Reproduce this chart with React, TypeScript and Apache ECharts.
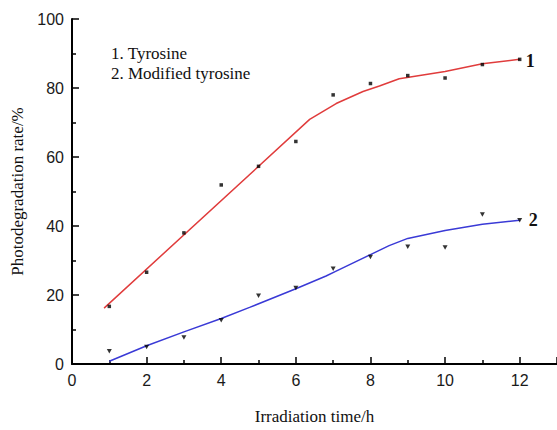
import React, { useEffect, useRef } from "react";
import * as echarts from "echarts";

// Measured points (irradiation time / h, photodegradation rate / %)
const tyrosinePoints: [number, number][] = [
  [1, 16.7], [2, 26.6], [3, 38.0], [4, 51.9], [5, 57.3], [6, 64.5],
  [7, 78.0], [8, 81.3], [9, 83.6], [10, 82.9], [11, 86.8], [12, 88.3],
];
const modifiedPoints: [number, number][] = [
  [1, 3.7], [2, 4.9], [3, 7.7], [4, 12.7], [5, 19.8], [6, 22.0],
  [7, 27.6], [8, 31.0], [9, 34.0], [10, 33.8], [11, 43.3], [12, 41.7],
];
// Fitted curves
const tyrosineFit: [number, number][] = [
  [0.86, 16.2], [6.37, 70.9], [7.08, 75.5], [7.8, 79.0], [8.24, 80.6],
  [8.77, 82.7], [10, 84.8], [11, 87.0], [12, 88.3],
];
const modifiedFit: [number, number][] = [
  [1, 0.8], [2, 5.3], [3, 9.3], [4, 13.2], [4.76, 16.4], [6, 21.8],
  [6.81, 25.5], [7.08, 26.9], [8, 31.7], [8.5, 34.3], [9, 36.4],
  [10, 38.7], [11, 40.5], [12, 41.7],
];
const seriesNames = ["1. Tyrosine", "2. Modified tyrosine"];
const endLabels = ["1", "2"];

const SERIF = "'Liberation Serif', 'Times New Roman', serif";
const SANS = "'Liberation Sans', Arial, sans-serif";

export default function App() {
  const ref = useRef<HTMLDivElement>(null);
  useEffect(() => {
    if (!ref.current) return;
    const chart = echarts.init(ref.current, undefined, { renderer: "svg" });
    const axisCommon = {
      axisLine: { show: true, lineStyle: { color: "#000", width: 2 } },
      axisTick: { show: true, inside: true, length: 7, lineStyle: { color: "#000", width: 1.5 } },
      minorTick: { show: true, splitNumber: 2, length: 4, lineStyle: { color: "#000", width: 1.5 } },
      splitLine: { show: false },
      axisLabel: { color: "#1a1a1a", fontFamily: SANS, fontSize: 16 },
      nameTextStyle: { color: "#111", fontFamily: SERIF, fontSize: 17 },
    };
    chart.setOption({
      animation: false,
      backgroundColor: "#fff",
      grid: { left: 72, right: 0, top: 19, bottom: 51, containLabel: false },
      legend: {
        data: seriesNames,
        orient: "vertical",
        left: 101,
        top: 40,
        icon: "none",
        itemWidth: 0,
        itemHeight: 17,
        itemGap: 3,
        selectedMode: false,
        textStyle: { color: "#111", fontFamily: SERIF, fontSize: 17 },
      },
      xAxis: {
        type: "value",
        min: 0,
        max: 13,
        interval: 2,
        name: "Irradiation time/h",
        nameLocation: "middle",
        nameGap: 44,
        ...axisCommon,
        axisLabel: { ...axisCommon.axisLabel, margin: 8, showMaxLabel: false },
      },
      yAxis: {
        type: "value",
        min: 0,
        max: 100,
        interval: 20,
        name: "Photodegradation rate/%",
        nameLocation: "middle",
        nameGap: 43,
        ...axisCommon,
        axisLabel: { ...axisCommon.axisLabel, margin: 8 },
      },
      series: [
        {
          name: seriesNames[0],
          type: "line",
          data: tyrosineFit,
          symbol: "none",
          lineStyle: { color: "#e03c3c", width: 1.5 },
          itemStyle: { color: "#e03c3c" },
          endLabel: {
            show: true,
            formatter: endLabels[0],
            fontFamily: SERIF,
            fontWeight: "bold",
            fontSize: 18,
            color: "#111",
            distance: 6,
            offset: [0, 2],
          },
          z: 2,
        },
        {
          name: seriesNames[1],
          type: "line",
          data: modifiedFit,
          symbol: "none",
          lineStyle: { color: "#3a3ad6", width: 1.5 },
          itemStyle: { color: "#3a3ad6" },
          endLabel: {
            show: true,
            formatter: endLabels[1],
            fontFamily: SERIF,
            fontWeight: "bold",
            fontSize: 18,
            color: "#111",
            distance: 9,
          },
          z: 2,
        },
        {
          name: seriesNames[0],
          type: "scatter",
          data: tyrosinePoints,
          symbol: "rect",
          symbolSize: 3.5,
          itemStyle: { color: "#000" },
          z: 3,
        },
        {
          name: seriesNames[1],
          type: "scatter",
          data: modifiedPoints,
          symbol: "triangle",
          symbolRotate: 180,
          symbolSize: [5, 4.5],
          itemStyle: { color: "#000" },
          z: 3,
        },
      ],
    });
    return () => chart.dispose();
  }, []);
  return <div ref={ref} style={{ width: 557, height: 430, position: "absolute", left: 0, top: 0 }} />;
}
